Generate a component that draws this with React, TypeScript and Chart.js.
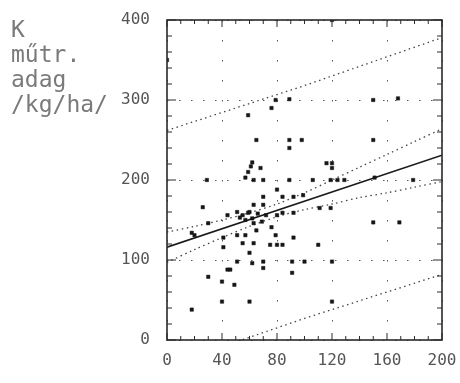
import React, { useEffect, useRef } from "react";
import { Chart, registerables } from "chart.js";

Chart.register(...registerables);

// Axis tick labels
const xTickValues = [0, 40, 80, 120, 160, 200];
const yTickValues = [0, 100, 200, 300, 400];
const yTitleLines = ["K", "műtr.", "adag", "/kg/ha/"];

// Observed points (x, y)
const pointX = [
  120, 0, 59, 76, 79, 89, 150, 168, 65, 89, 89, 98, 150, 62, 61, 68, 120, 120, 116,
  29, 57, 59, 26, 51, 55, 59, 44, 20, 41, 51, 57, 55, 41, 70, 89, 106, 119, 124, 63,
  80, 70, 84, 92, 99, 70, 63, 60, 66, 72, 80, 84, 92, 111, 119, 63, 69, 76, 65, 79,
  63, 75, 80, 84, 92, 110, 129, 151, 179, 150, 169, 60, 51, 62, 70, 70, 91, 44, 91,
  30, 40, 49, 40, 60, 18, 100, 120, 120, 18, 30, 46, 53, 57, 62,
];
const pointY = [
  400, 350, 281, 290, 300, 301, 300, 302, 250, 250, 240, 250, 250, 222, 217, 215, 221, 215, 221,
  200, 203, 210, 166, 160, 156, 159, 156, 131, 128, 131, 131, 121, 116, 200, 200, 200, 200, 200, 200,
  188, 179, 179, 179, 181, 169, 169, 160, 158, 156, 156, 159, 159, 165, 165, 146, 148, 141, 137, 131,
  121, 119, 119, 119, 128, 119, 200, 203, 200, 147, 147, 109, 98, 96, 98, 90, 98, 88, 84,
  79, 73, 69, 48, 48, 38, 98, 98, 48, 134, 146, 88, 153, 150, 152,
];

// Regression line
const regX = [0, 200];
const regY = [116, 231];

// Confidence band
const confX = [0, 20, 40, 60, 80, 100, 120, 140, 160, 180, 200];
const confUpper = [135, 142, 150, 159, 170, 184, 200, 216, 232, 248, 264];
const confLower = [97, 113, 128, 142, 154, 163, 170, 178, 184, 191, 198];

// Prediction band
const predX = [0, 100, 200];
const predUpper = [262, 318, 378];
const predLower = [-32, 27, 82];

const xMinorStep = 10;
const yMinorStep = 20;

const toXY = (xs: number[], ys: number[]) => xs.map((x, i) => ({ x, y: ys[i] }));

const framePlugin = {
  id: "frame",
  afterDraw(chart: any) {
    const { ctx, chartArea, scales } = chart;
    const { left, right, top, bottom } = chartArea;
    const xs = scales.x;
    const ys = scales.y;
    ctx.save();
    ctx.strokeStyle = "#2a2a2a";
    ctx.lineWidth = 1;
    const line = (x1: number, y1: number, x2: number, y2: number) => {
      ctx.beginPath();
      ctx.moveTo(x1, y1);
      ctx.lineTo(x2, y2);
      ctx.stroke();
    };
    for (let v = 0; v <= 200; v += xMinorStep) {
      const px = xs.getPixelForValue(v);
      const len = v % 40 === 0 ? 7 : 4;
      line(px, bottom, px, bottom - len);
      line(px, top, px, top + len);
    }
    for (let v = 0; v <= 400; v += yMinorStep) {
      const py = ys.getPixelForValue(v);
      const len = v % 100 === 0 ? 9 : 5;
      line(left, py, left + len, py);
      line(right, py, right - len, py);
    }
    ctx.lineWidth = 1.6;
    ctx.strokeRect(left, top, right - left, bottom - top);
    ctx.restore();
  },
};

export default function App() {
  const canvasRef = useRef<HTMLCanvasElement | null>(null);

  useEffect(() => {
    if (!canvasRef.current) return;
    const bandStyle = {
      type: "line" as const,
      showLine: true,
      pointRadius: 0,
      borderColor: "#444",
      borderWidth: 1.3,
      borderDash: [1.5, 3.5],
      fill: false,
      tension: 0.3,
    };
    const chart = new Chart(canvasRef.current, {
      type: "scatter",
      data: {
        datasets: [
          {
            label: "points",
            data: toXY(pointX, pointY),
            pointStyle: "rect",
            pointRadius: 2.4,
            backgroundColor: "#161616",
            borderColor: "#161616",
            borderWidth: 0.5,
          },
          {
            label: "regression",
            type: "line",
            data: toXY(regX, regY),
            showLine: true,
            pointRadius: 0,
            borderColor: "#1a1a1a",
            borderWidth: 1.6,
            fill: false,
          },
          { label: "confUpper", data: toXY(confX, confUpper), ...bandStyle },
          { label: "confLower", data: toXY(confX, confLower), ...bandStyle },
          { label: "predUpper", data: toXY(predX, predUpper), ...bandStyle, tension: 0 },
          { label: "predLower", data: toXY(predX, predLower), ...bandStyle, tension: 0 },
        ] as any,
      },
      options: {
        animation: false,
        responsive: false,
        maintainAspectRatio: false,
        layout: { padding: { top: 20, right: 18, left: 0, bottom: 0 } },
        plugins: {
          legend: { display: false },
          tooltip: { enabled: false },
        },
        scales: {
          x: {
            type: "linear",
            min: 0,
            max: 200,
            afterBuildTicks: (s: any) => {
              s.ticks = xTickValues.map((v) => ({ value: v }));
            },
            afterFit: (s: any) => {
              s.height = 43;
              s.paddingLeft = 0;
              s.paddingRight = 0;
            },
            ticks: {
              color: "#555",
              font: { family: "DejaVu Sans Mono", size: 16 },
              padding: 11,
              maxRotation: 0,
              autoSkip: false,
            },
            grid: { color: "#555", lineWidth: 1, drawTicks: false },
            border: { display: false, dash: [1.5, 18.5] },
          },
          y: {
            type: "linear",
            min: 0,
            max: 400,
            afterBuildTicks: (s: any) => {
              s.ticks = yTickValues.map((v) => ({ value: v }));
            },
            afterFit: (s: any) => {
              s.width = 167;
              s.paddingTop = 0;
              s.paddingBottom = 0;
            },
            ticks: {
              color: "#555",
              font: { family: "DejaVu Sans Mono", size: 16 },
              padding: 17,
              autoSkip: false,
            },
            grid: { color: "#555", lineWidth: 1, drawTicks: false },
            border: { display: false, dash: [1.5, 10.5] },
          },
        },
      },
      plugins: [framePlugin],
    });
    return () => chart.destroy();
  }, []);

  return (
    <div style={{ position: "absolute", left: 0, top: 0, width: 460, height: 383, background: "#fff" }}>
      <canvas ref={canvasRef} width={460} height={383} style={{ display: "block" }} />
      <div
        style={{
          position: "absolute",
          left: 11,
          top: 17,
          fontFamily: "'DejaVu Sans Mono', monospace",
          fontSize: 23,
          lineHeight: "25px",
          color: "#7a7a7a",
          whiteSpace: "pre",
        }}
      >
        {yTitleLines.map((t, i) => (
          <div key={i}>{t}</div>
        ))}
      </div>
    </div>
  );
}
